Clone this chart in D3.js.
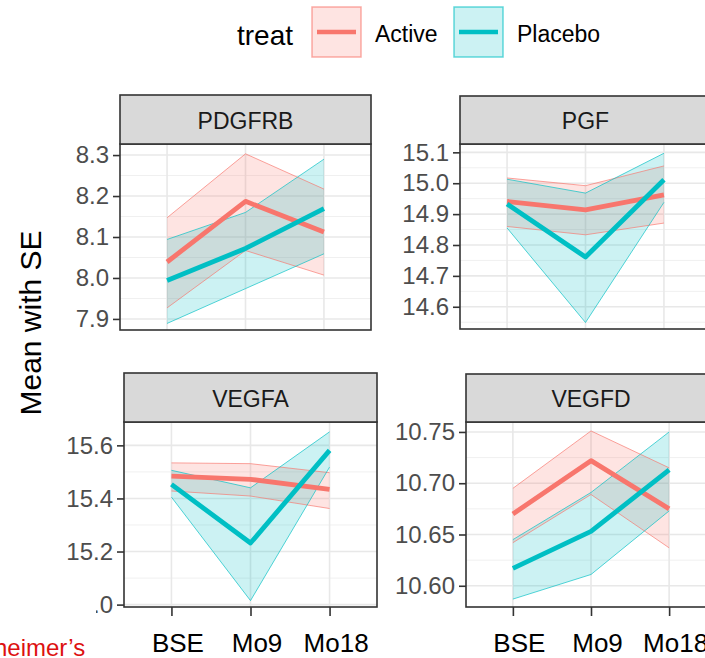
<!DOCTYPE html>
<html>
<head>
<meta charset="utf-8">
<script src="https://cdn.jsdelivr.net/npm/d3@7"></script>
<style>
  html, body { margin: 0; padding: 0; background: #fff; }
  svg { display: block; font-family: "Liberation Sans", Arial, sans-serif; }
</style>
</head>
<body>
<div class="svg-container"></div>
<script>
// data
const times = ["BSE", "Mo9", "Mo18"];
const genes = ["PDGFRB", "PGF", "VEGFA", "VEGFD"];
const groups = ["Active", "Placebo"];

const activeMean  = [[8.039, 8.187, 8.112], [14.941, 14.914, 14.962], [15.484, 15.472, 15.434], [10.670, 10.722, 10.675]];
const activeLow   = [[7.927, 8.067, 8.007], [14.860, 14.833, 14.871], [15.428, 15.409, 15.362], [10.642, 10.689, 10.637]];
const activeHigh  = [[8.147, 8.303, 8.217], [15.017, 14.992, 15.056], [15.534, 15.531, 15.497], [10.695, 10.751, 10.715]];
const placeboMean = [[7.994, 8.072, 8.169], [14.933, 14.761, 15.011], [15.453, 15.232, 15.581], [10.617, 10.653, 10.713]];
const placeboLow  = [[7.889, 7.974, 8.059], [14.855, 14.549, 14.938], [15.405, 15.015, 15.518], [10.587, 10.611, 10.673]];
const placeboHigh = [[8.094, 8.160, 8.290], [15.013, 14.968, 15.097], [15.506, 15.440, 15.651], [10.645, 10.691, 10.750]];

const yTicks = [
  [7.9, 8.0, 8.1, 8.2, 8.3],
  [14.6, 14.7, 14.8, 14.9, 15.0, 15.1],
  [15.0, 15.2, 15.4, 15.6],
  [10.60, 10.65, 10.70, 10.75]
];
const yDigits = [1, 1, 1, 2];

const w = 705, h = 658;
const colors = { Active: "#F8766D", Placebo: "#00BFC4" };

// panel boxes (left, right, strip top, plot top, plot bottom) and y limits
const panels = [
  { x0: 120, x1: 371, s0: 95, p0: 144, p1: 330, dom: [7.873, 8.327], xaxis: false },
  { x0: 460, x1: 711, s0: 96, p0: 144, p1: 329, dom: [14.528, 15.127], xaxis: false },
  { x0: 124, x1: 377, s0: 373, p0: 422, p1: 607, dom: [14.991, 15.688], xaxis: true },
  { x0: 466, x1: 716, s0: 374, p0: 422, p1: 607, dom: [10.5793, 10.7597], xaxis: true }
];

const svg = d3.select(".svg-container")
  .append("svg")
  .attr("width", w)
  .attr("height", h);

genes.forEach(function (gene, i) {
  const p = panels[i];
  const xScale = d3.scalePoint()
    .domain(times)
    .range([p.x0, p.x1])
    .padding(0.6);
  const yScale = d3.scaleLinear()
    .domain(p.dom)
    .range([p.p1, p.p0]);

  const g = svg.append("g").attr("class", "panel");

  // background
  g.append("rect")
    .attr("x", p.x0).attr("y", p.p0)
    .attr("width", p.x1 - p.x0).attr("height", p.p1 - p.p0)
    .attr("fill", "#fff");

  // minor grid
  const step = yTicks[i][1] - yTicks[i][0];
  const minors = [];
  for (let k = -1; k < yTicks[i].length; k++) {
    const v = yTicks[i][0] + step * (k + 0.5);
    if (v > p.dom[0] && v < p.dom[1]) minors.push(v);
  }
  g.selectAll(".minor")
    .data(minors)
    .enter().append("line")
    .attr("x1", p.x0).attr("x2", p.x1)
    .attr("y1", d => yScale(d)).attr("y2", d => yScale(d))
    .attr("stroke", "#f0f0f0").attr("stroke-width", 1);

  // major grid
  g.selectAll(".hmajor")
    .data(yTicks[i])
    .enter().append("line")
    .attr("x1", p.x0).attr("x2", p.x1)
    .attr("y1", d => yScale(d)).attr("y2", d => yScale(d))
    .attr("stroke", "#e8e8e8").attr("stroke-width", 1.6);
  g.selectAll(".vmajor")
    .data(times)
    .enter().append("line")
    .attr("x1", d => xScale(d)).attr("x2", d => xScale(d))
    .attr("y1", p.p0).attr("y2", p.p1)
    .attr("stroke", "#e8e8e8").attr("stroke-width", 1.6);

  const series = [
    { name: "Active", mean: activeMean[i], low: activeLow[i], high: activeHigh[i] },
    { name: "Placebo", mean: placeboMean[i], low: placeboLow[i], high: placeboHigh[i] }
  ];

  const area = d3.area()
    .x((d, j) => xScale(times[j]))
    .y0(d => yScale(d[0]))
    .y1(d => yScale(d[1]));
  const line = d3.line()
    .x((d, j) => xScale(times[j]))
    .y(d => yScale(d));

  // ribbons
  series.forEach(function (s) {
    g.append("path")
      .datum(s.low.map((v, j) => [v, s.high[j]]))
      .attr("d", area)
      .attr("fill", colors[s.name])
      .attr("fill-opacity", 0.2)
      .attr("stroke", "none");
  });
  series.forEach(function (s) {
    [s.low, s.high].forEach(function (edge) {
      g.append("path")
        .datum(edge)
        .attr("d", line)
        .attr("fill", "none")
        .attr("stroke", colors[s.name])
        .attr("stroke-opacity", 0.75)
        .attr("stroke-width", 0.9);
    });
  });
  // means
  series.forEach(function (s) {
    g.append("path")
      .datum(s.mean)
      .attr("d", line)
      .attr("fill", "none")
      .attr("stroke", colors[s.name])
      .attr("stroke-width", 4.8)
      .attr("stroke-linejoin", "round");
  });

  // border
  g.append("rect")
    .attr("x", p.x0).attr("y", p.p0)
    .attr("width", p.x1 - p.x0).attr("height", p.p1 - p.p0)
    .attr("fill", "none").attr("stroke", "#333").attr("stroke-width", 1.6);

  // strip
  g.append("rect")
    .attr("x", p.x0).attr("y", p.s0)
    .attr("width", p.x1 - p.x0).attr("height", p.p0 - p.s0)
    .attr("fill", "#d9d9d9").attr("stroke", "#333").attr("stroke-width", 1.6);
  g.append("text")
    .attr("x", (p.x0 + p.x1) / 2)
    .attr("y", p.p0 - 15)
    .attr("text-anchor", "middle")
    .attr("font-size", 23)
    .attr("fill", "#1a1a1a")
    .text(gene);

  // y axis
  const yAxis = d3.axisLeft(yScale)
    .tickValues(yTicks[i])
    .tickFormat(d3.format("." + yDigits[i] + "f"))
    .tickSize(7)
    .tickPadding(4);
  const ya = g.append("g")
    .attr("transform", "translate(" + p.x0 + ",0)")
    .call(yAxis);
  ya.select(".domain").remove();
  ya.selectAll(".tick line").attr("stroke", "#333").attr("stroke-width", 1.6);
  ya.selectAll(".tick text")
    .attr("font-size", 24)
    .attr("font-family", "Liberation Sans, Arial, sans-serif")
    .attr("fill", "#4d4d4d");

  // x axis (bottom row only)
  if (p.xaxis) {
    const xAxis = d3.axisBottom(xScale).tickSize(9).tickPadding(18);
    const xa = g.append("g")
      .attr("transform", "translate(0," + p.p1 + ")")
      .call(xAxis);
    xa.select(".domain").remove();
    xa.selectAll(".tick line").attr("stroke", "#333").attr("stroke-width", 1.6);
    xa.selectAll(".tick text")
      .attr("font-size", 26)
      .attr("font-family", "Liberation Sans, Arial, sans-serif")
      .attr("fill", "#000")
      .attr("dx", 6);
  }
});

// white patch over the lowest VEGFA label, as in the source image
svg.append("rect")
  .attr("x", 50).attr("y", 588)
  .attr("width", 46).attr("height", 32)
  .attr("fill", "#fff");

// y axis title
svg.append("text")
  .attr("transform", "translate(41,323) rotate(-90)")
  .attr("text-anchor", "middle")
  .attr("font-size", 30)
  .attr("fill", "#000")
  .text("Mean with SE");

// legend
svg.append("text")
  .attr("x", 237).attr("y", 45)
  .attr("font-size", 28)
  .attr("fill", "#000")
  .text("treat");

const legendX = [312, 454];
const leg = svg.selectAll(".legend")
  .data(groups)
  .enter().append("g")
  .attr("class", "legend")
  .attr("transform", (d, i) => "translate(" + legendX[i] + ",7)");
leg.append("rect")
  .attr("width", 49).attr("height", 50)
  .attr("fill", d => colors[d]).attr("fill-opacity", 0.2)
  .attr("stroke", d => colors[d]).attr("stroke-opacity", 0.6).attr("stroke-width", 1.5);
leg.append("line")
  .attr("x1", 5).attr("x2", 44)
  .attr("y1", 25).attr("y2", 25)
  .attr("stroke", d => colors[d]).attr("stroke-width", 4.5);
leg.append("text")
  .attr("x", 63).attr("y", 35)
  .attr("font-size", 23)
  .attr("fill", "#000")
  .text(d => d);

// fragment of slide text at the lower left
svg.append("text")
  .attr("x", -6).attr("y", 656)
  .attr("font-size", 24)
  .attr("fill", "#dd1111")
  .text("heimer\u2019s");
</script>
</body>
</html>
